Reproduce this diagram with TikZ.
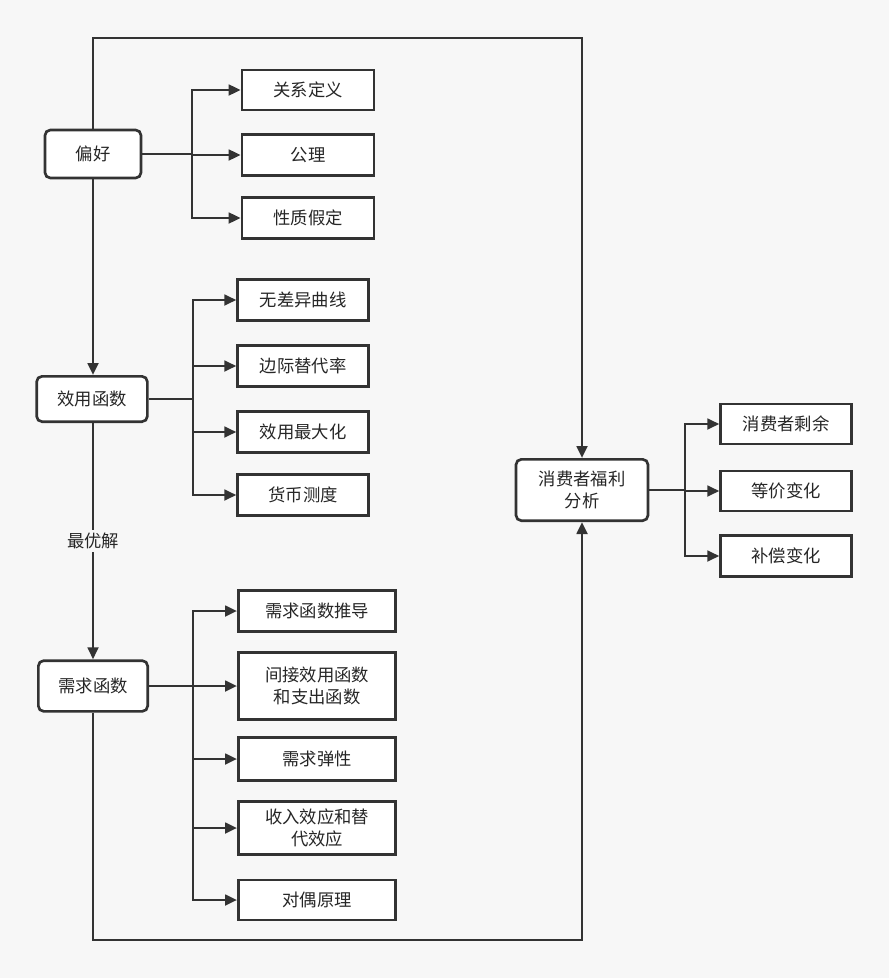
\documentclass[tikz,border=0pt]{standalone}
\usepackage{fontspec}
\setmainfont{Noto Sans CJK SC}
\usetikzlibrary{arrows.meta}
\begin{document}
\begin{tikzpicture}[x=0.75pt,y=-0.75pt,
  every node/.style={font=\fontsize{13}{16}\selectfont,text=black!85},
  box/.style={draw=black!80,line width=2pt,fill=white,inner sep=0pt,align=center},
  rbox/.style={box,rounded corners=4pt},
  ln/.style={draw=black!80,line width=2pt},
  arr/.style={ln,-{Triangle[length=9pt,width=8pt]}}]
\fill[black!3] (0,0) rectangle (889,978);
\useasboundingbox (0,0) rectangle (889,978);
% left main
\node[rbox,minimum width=72pt,minimum height=36pt] (pref) at (93,154) {偏好};
\node[rbox,minimum width=83pt,minimum height=34pt] (util) at (92,399) {效用函数};
\node[rbox,minimum width=82pt,minimum height=38pt] (dem) at (93,686) {需求函数};
\node[rbox,minimum width=99pt,minimum height=46pt] (wel) at (582,490) {消费者福利\\分析};
% pref children
\node[box,minimum width=99pt,minimum height=30pt] (a1) at (308,90) {关系定义};
\node[box,minimum width=99pt,minimum height=31pt] (a2) at (308,155) {公理};
\node[box,minimum width=99pt,minimum height=31pt] (a3) at (308,218) {性质假定};
% util children
\node[box,minimum width=98pt,minimum height=31pt] (b1) at (303,300) {无差异曲线};
\node[box,minimum width=98pt,minimum height=31pt] (b2) at (303,366) {边际替代率};
\node[box,minimum width=98pt,minimum height=31pt] (b3) at (303,432) {效用最大化};
\node[box,minimum width=98pt,minimum height=31pt] (b4) at (303,495) {货币测度};
% dem children
\node[box,minimum width=118pt,minimum height=31pt] (c1) at (317,611) {需求函数推导};
\node[box,minimum width=118pt,minimum height=50pt] (c2) at (317,686) {间接效用函数\\和支出函数};
\node[box,minimum width=118pt,minimum height=32pt] (c3) at (317,759) {需求弹性};
\node[box,minimum width=118pt,minimum height=40pt] (c4) at (317,828) {收入效应和替\\代效应};
\node[box,minimum width=118pt,minimum height=30pt] (c5) at (317,900) {对偶原理};
% welfare children
\node[box,minimum width=98pt,minimum height=30pt] (d1) at (786,424) {消费者剩余};
\node[box,minimum width=98pt,minimum height=30pt] (d2) at (786,491) {等价变化};
\node[box,minimum width=98pt,minimum height=31pt] (d3) at (786,556) {补偿变化};
% trees
\coordinate (ja) at (192,154);
\draw[ln] (pref.east) -- (ja);
\foreach \n in {a1,a2,a3} \draw[arr] (ja) |- (\n.west);
\coordinate (jb) at (193,399);
\draw[ln] (util.east) -- (jb);
\foreach \n in {b1,b2,b3,b4} \draw[arr] (jb) |- (\n.west);
\coordinate (jc) at (193,686);
\draw[ln] (dem.east) -- (jc);
\foreach \n in {c1,c2,c3,c4,c5} \draw[arr] (jc) |- (\n.west);
\coordinate (jd) at (685,490);
\draw[ln] (wel.east) -- (jd);
\foreach \n in {d1,d2,d3} \draw[arr] (jd) |- (\n.west);
% main arrows
\draw[arr] (pref.south) -- (util.north -| pref.south);
\draw[arr] (util.south -| dem.north) -- node[fill=black!3,inner sep=2pt] {最优解} (dem.north);
\coordinate (t) at (93,38);
\coordinate (b) at (93,940);
\draw[arr] (pref.north) -- (t) -| (wel.north);
\draw[arr] (dem.south) -- (b) -| (wel.south);
\end{tikzpicture}
\end{document}
